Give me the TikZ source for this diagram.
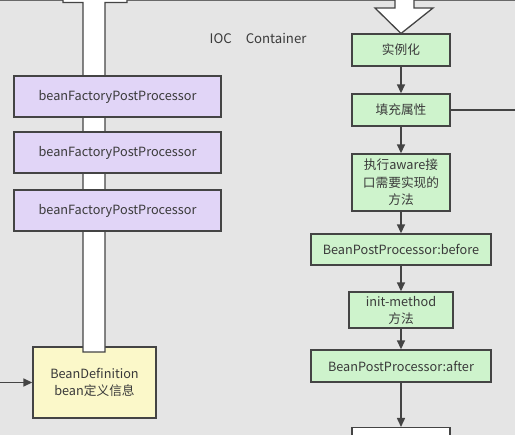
\documentclass[tikz,border=0pt]{standalone}
\usepackage{fontspec}
\setmainfont{Noto Sans CJK SC}
\usetikzlibrary{arrows.meta}
\definecolor{bg}{HTML}{E5E5E5}
\definecolor{edge}{HTML}{444444}
\definecolor{txt}{HTML}{3A3A3A}
\definecolor{purp}{HTML}{E1D5F7}
\definecolor{grn}{HTML}{CEF3CC}
\definecolor{yel}{HTML}{FBF8C9}
\tikzset{
  box/.style={draw=edge, line width=1.4pt, text=txt, align=center, inner sep=2pt,
    font=\fontsize{12.7pt}{16.5pt}\selectfont},
  pbox/.style={box, fill=purp, minimum width=207pt, minimum height=41pt},
  gbox/.style={box, fill=grn, minimum width=98pt},
  ybox/.style={box, fill=yel, minimum width=123pt, minimum height=71pt},
  flow/.style={draw=edge, line width=1.5pt, -{Triangle[width=8pt,length=9pt]}},
  shaft/.style={draw=edge, line width=1.3pt, fill=white},
}
\begin{document}
\begin{tikzpicture}[x=1pt,y=-1pt]
\useasboundingbox (0,0) rectangle (515,435);
\fill[bg] (0,0) rectangle (515,435);
\clip (0,0) rectangle (515,435);
% top border of container
\draw[edge!80, line width=1.2pt] (0,0.6) -- (515,0.6);
% BeanDefinition
\node[ybox] (bd) at (94.5,382.5) {BeanDefinition\\bean定义信息};
\coordinate (lin) at (0,382.5);
\draw[flow] (lin) -- (bd.west);
% left wide arrow shaft (pointing up)
\path[shaft] (83,352) -- (83,2.5) -- (63,2.5) -- (63,-4) -- (95,-30) -- (127,-4) -- (127,2.5) -- (105,2.5) -- (105,352) -- cycle;
% purple boxes
\node[pbox] (bf1) at (117.5,96.5) {beanFactoryPostProcessor};
\node[pbox] (bf2) at (117.5,152.5) {beanFactoryPostProcessor};
\node[pbox] (bf3) at (117.5,210.5) {beanFactoryPostProcessor};
% title
\node[text=txt, font=\fontsize{13.2pt}{14pt}\selectfont, anchor=west, inner sep=0pt] (ioc) at (209.5,38.5) {IOC\hspace{14pt}Container};
% right wide arrow (pointing down)
\path[shaft] (395,-5) -- (395,8) -- (375,8) -- (401,33.5) -- (433,8) -- (414,8) -- (414,-5);
% green boxes
\node[gbox, minimum height=32pt] (inst) at (401,50) {实例化};
\node[gbox, minimum height=32pt] (fill) at (401,110) {填充属性};
\node[gbox, minimum height=57pt, text width=84pt, font=\fontsize{12.7pt}{17.5pt}\selectfont] (aware) at (401,182.5) {执行aware接\\口需要实现的\\方法};
\node[gbox, minimum width=180pt, minimum height=31pt] (before) at (401,249.5) {BeanPostProcessor:before};
\node[gbox, minimum width=104pt, minimum height=36pt, font=\fontsize{12.7pt}{17pt}\selectfont] (init) at (401,310) {init-method\\方法};
\node[gbox, minimum width=180pt, minimum height=32pt] (after) at (401,366) {BeanPostProcessor:after};
\node[box, fill=white, minimum width=98pt, minimum height=40pt, anchor=north] (next) at (401,427) {};
\coordinate (rout) at (515,110);
\draw[draw=edge, line width=1.3pt] (fill.east) -- (rout);
% flow arrows
\draw[flow] (inst) -- (fill);
\draw[flow] (fill) -- (aware);
\draw[flow] (aware) -- (before);
\draw[flow] (before) -- (init);
\draw[flow] (init) -- (after);
\draw[flow] (after) -- (next);
\end{tikzpicture}
\end{document}
